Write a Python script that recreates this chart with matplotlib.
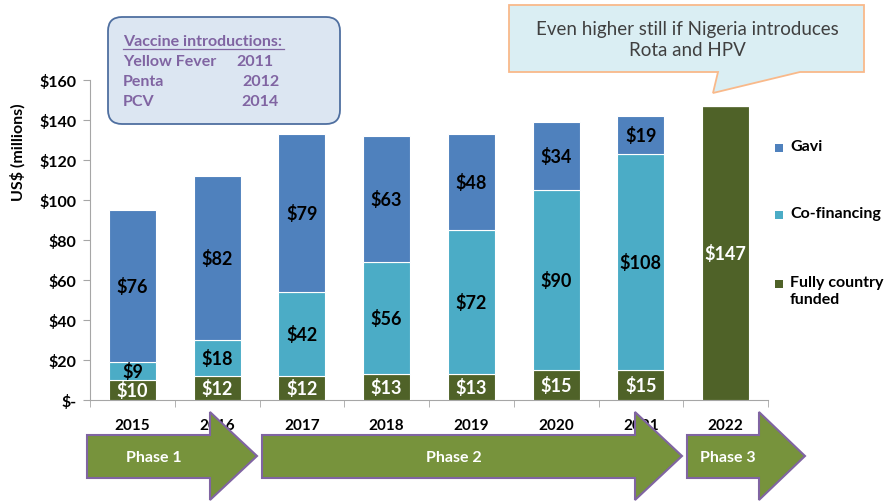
import numpy as np
import matplotlib.pyplot as plt
from matplotlib.patches import Polygon, FancyBboxPatch, Rectangle

plt.rcParams['font.family'] = ['Lato', 'DejaVu Sans']

# data (US$ millions)
years = ['2015', '2016', '2017', '2018', '2019', '2020', '2021', '2022']
country = [10, 12, 12, 13, 13, 15, 15, 147]
cofin = [9, 18, 42, 56, 72, 90, 108, 0]
gavi = [76, 82, 79, 63, 48, 34, 19, 0]
series_names = ['Gavi', 'Co-financing', 'Fully country\nfunded']
yticks = [0, 20, 40, 60, 80, 100, 120, 140, 160]
ytick_labels = ['$-', '$20', '$40', '$60', '$80', '$100', '$120', '$140', '$160']
phases = ['Phase 1', 'Phase 2', 'Phase 3']
intro_vaccines = ['Yellow Fever', 'Penta', 'PCV']
intro_years = ['2011', '2012', '2014']

c_gavi = '#4f81bd'
c_cofin = '#4bacc6'
c_country = '#4f6228'
c_arrow = '#77933c'
c_purple = '#8064a2'

W, H = 889, 502
fig = plt.figure(figsize=(W / 100, H / 100), dpi=100)
fig.patch.set_facecolor('white')

# main chart axes, placed in pixel terms
ax = fig.add_axes([90 / W, (H - 401) / H, (768 - 90) / W, 320 / H])
x = np.arange(len(years))
bw = 0.555
country = np.array(country)
cofin = np.array(cofin)
gavi = np.array(gavi)

ax.bar(x, country, bw, color=c_country, edgecolor='white', linewidth=0.8, zorder=3)
ax.bar(x, cofin, bw, bottom=country, color=c_cofin, edgecolor='white', linewidth=0.8, zorder=3)
ax.bar(x, gavi, bw, bottom=country + cofin, color=c_gavi, edgecolor='white', linewidth=0.8, zorder=3)

# value labels
fs_val = 13
for i in range(len(years)):
    ax.text(x[i], country[i] / 2, f'${country[i]}', ha='center', va='center',
            color='white', fontsize=fs_val, fontweight='bold', zorder=4)
    if cofin[i] > 0:
        ax.text(x[i], country[i] + cofin[i] / 2, f'${cofin[i]}', ha='center', va='center',
                color='black', fontsize=fs_val, fontweight='bold', zorder=4)
    if gavi[i] > 0:
        ax.text(x[i], country[i] + cofin[i] + gavi[i] / 2, f'${gavi[i]}', ha='center',
                va='center', color='black', fontsize=fs_val, fontweight='bold', zorder=4)

ax.set_xlim(-0.5, len(years) - 0.5)
ax.set_ylim(0, 160)
ax.set_yticks(yticks)
ax.set_yticklabels(ytick_labels, fontsize=11.5, fontweight='bold')
ax.set_xticks(x)
ax.set_xticklabels(years, fontsize=11, fontweight='bold')
ax.set_xticks(np.arange(-0.5, len(years)), minor=True)
ax.tick_params(axis='x', which='major', length=0, pad=13)
ax.tick_params(axis='x', which='minor', length=5, color='#a6a6a6', direction='out')
ax.tick_params(axis='y', length=5, color='#a6a6a6', direction='out', pad=5)
for s in ['top', 'right']:
    ax.spines[s].set_visible(False)
for s in ['left', 'bottom']:
    ax.spines[s].set_color('#a6a6a6')

# overlay axes in pixel coordinates for shapes and notes
ov = fig.add_axes([0, 0, 1, 1], zorder=5)
ov.set_xlim(0, W)
ov.set_ylim(H, 0)
ov.axis('off')
ov.patch.set_alpha(0)

ov.text(18, 152, 'US$ (millions)', rotation=90, ha='center', va='center',
        fontsize=11.5, fontweight='bold')

# phase arrows
arrows = [(87, 210, 257), (262, 635, 682), (687, 759, 805)]
for (x0, xb, xt), name in zip(arrows, phases):
    pts = [(x0, 436), (xb, 436), (xb, 413), (xt, 457), (xb, 501), (xb, 479), (x0, 479)]
    ov.add_patch(Polygon(pts, closed=True, facecolor=c_arrow, edgecolor=c_purple, linewidth=1.5))
    cx = (x0 + xb) / 2 + 5
    ov.text(cx, 458, name, ha='center', va='center', color='white', fontsize=11.5, fontweight='bold')

# vaccine introductions box
ov.add_patch(FancyBboxPatch((108 + 14, 18 + 14), 232 - 28, 107 - 28,
                            boxstyle='round,pad=14', facecolor='#dce6f2',
                            edgecolor='#4f6fa0', linewidth=1.3))
fs_box = 11.5
ov.text(123, 42, 'Vaccine introductions:', ha='left', va='center', color=c_purple,
        fontsize=fs_box, fontweight='bold')
ov.plot([123, 284], [50, 50], color=c_purple, lw=0.9)
year_x = [236, 242, 241]
for k, (v, yr) in enumerate(zip(intro_vaccines, intro_years)):
    yy = 62 + 20 * k
    ov.text(123, yy, v, ha='left', va='center', color=c_purple, fontsize=fs_box, fontweight='bold')
    ov.text(year_x[k], yy, yr, ha='left', va='center', color=c_purple, fontsize=fs_box, fontweight='bold')

# callout
call = [(509, 6), (864, 6), (864, 73), (800, 73), (713, 94), (718, 73), (509, 73)]
ov.add_patch(Polygon(call, closed=True, facecolor='#daeef3', edgecolor='#f9b98a', linewidth=1.3))
ov.text(687, 40, 'Even higher still if Nigeria introduces\nRota and HPV', ha='center',
        va='center', color='#404040', fontsize=13.5, linespacing=1.35)

# legend
leg_y = [149, 216, 285]
for yy, name, col in zip(leg_y, series_names, [c_gavi, c_cofin, c_country]):
    ov.add_patch(Rectangle((775, yy - 4), 8, 8, facecolor=col, edgecolor='none'))
    ov.text(790, yy - 9, name, ha='left', va='top', color='black', fontsize=11.5,
            fontweight='bold', linespacing=1.3)

fig.savefig('out.png', dpi=100)
